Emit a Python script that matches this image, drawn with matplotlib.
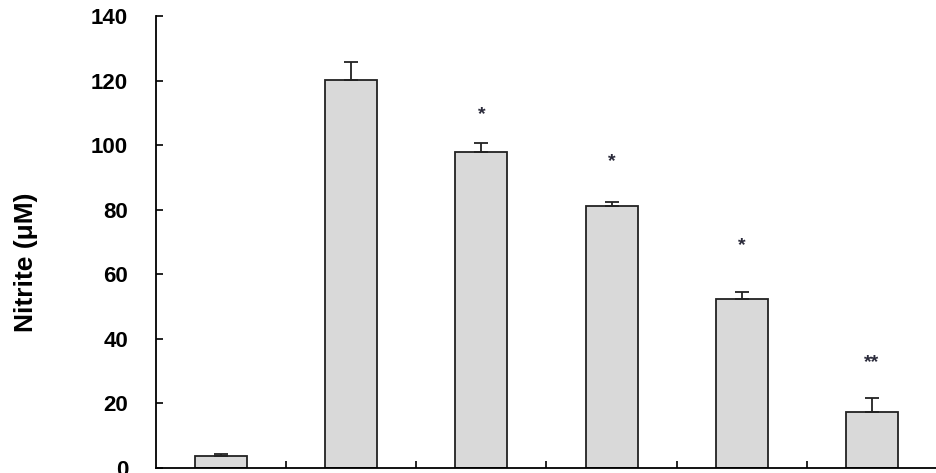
import numpy as np
import matplotlib.pyplot as plt

plt.rcParams['font.family'] = ['Liberation Sans', 'DejaVu Sans']

# data
groups = ['1', '2', '3', '4', '5', '6']
nitrite = [3.7, 120.2, 97.8, 81.2, 52.5, 17.5]
err = [0.5, 5.6, 2.9, 1.2, 1.9, 4.3]
marks = ['', '', '*', '*', '*', '**']
mark_y = [0, 0, 109.5, 95, 69, 32.5]

fig = plt.figure(figsize=(9.37, 4.73), dpi=100)
ax = fig.add_axes([156/937, 1 - 468/473, 1 - 156/937, 452/473])

x = np.arange(len(groups))
ax.bar(x, nitrite, width=0.4, color='#d9d9d9', edgecolor='#222222', linewidth=1.3, zorder=2)
ax.errorbar(x, nitrite, yerr=[np.zeros(len(err)), err], fmt='none',
            ecolor='#222222', elinewidth=1.3, capsize=5, capthick=1.3, zorder=3)

for xi, m, my in zip(x, marks, mark_y):
    if m:
        ax.text(xi, my, m, ha='center', va='center', fontsize=14,
                fontweight='bold', color='#2a2a3a')

ax.set_xlim(-0.5, len(groups) - 0.5)
ax.set_ylim(0, 140)
ax.set_yticks(np.arange(0, 141, 20))
ax.set_xticks(x[:-1] + 0.5)
ax.set_xticklabels([])
ax.tick_params(axis='y', direction='in', length=5, width=1.2, pad=20,
               labelsize=16)
ax.tick_params(axis='x', direction='in', length=5, width=1.2)
for lab in ax.get_yticklabels():
    lab.set_fontweight('bold')

ax.spines['top'].set_visible(False)
ax.spines['right'].set_visible(False)
ax.spines['left'].set_linewidth(1.3)
ax.spines['bottom'].set_linewidth(1.3)

fig.text(26/937, 1 - 262/473, 'Nitrite (μM)', rotation=90, ha='center', va='center',
         fontsize=19, fontweight='bold')

fig.savefig('out.png', dpi=100)
